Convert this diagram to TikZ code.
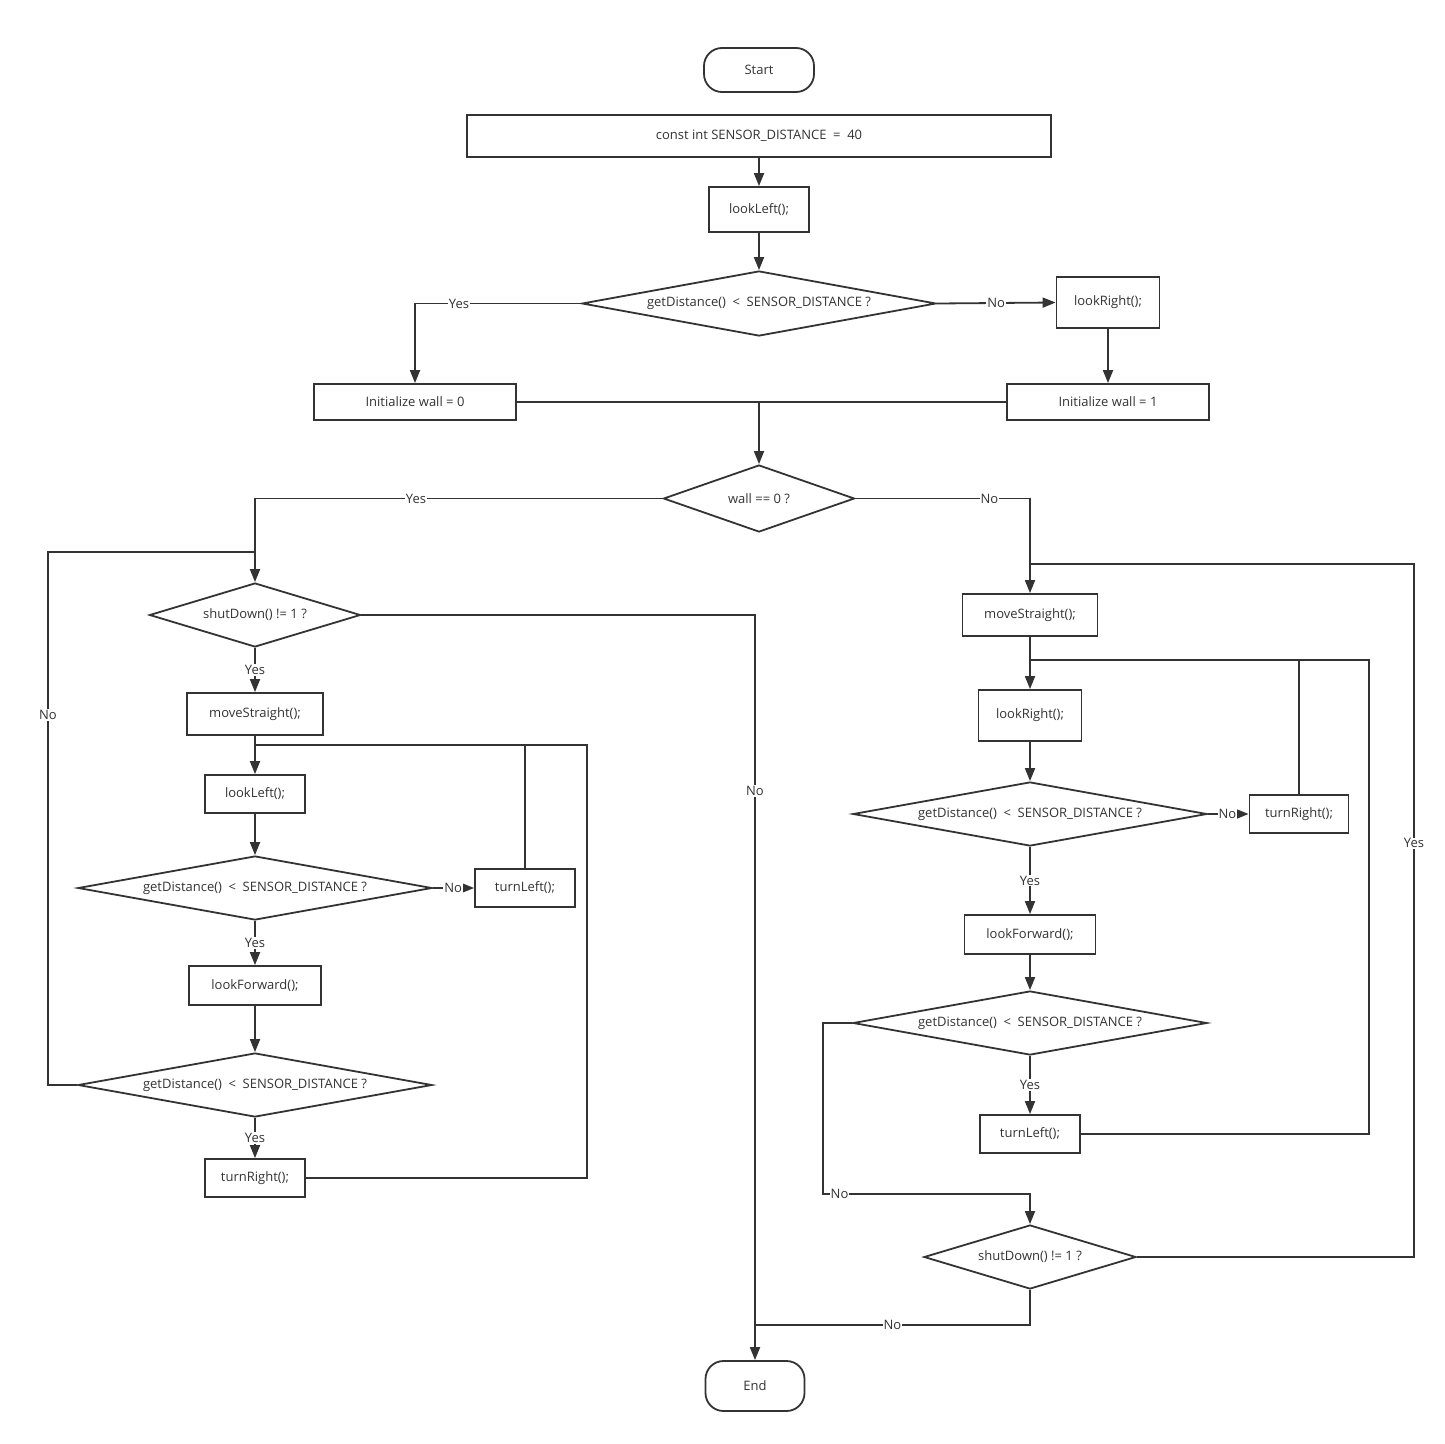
\documentclass[tikz,border=0pt]{standalone}
\usepackage{fontspec}
\setmainfont{Open Sans}
\usetikzlibrary{shapes.geometric,arrows.meta}
\definecolor{ink}{HTML}{333333}
\newcommand{\wsp}{\hspace{0.25em}}
\begin{document}
\begin{tikzpicture}[x=1pt,y=-1pt,
  every node/.style={font=\fontsize{13}{15}\selectfont, text=ink},
  proc/.style={draw=ink, line width=1.8pt, rectangle, inner sep=0pt},
  term/.style={draw=ink, line width=1.8pt, rectangle, rounded corners=18pt, inner sep=0pt},
  decide/.style n args={3}{draw=ink, line width=1.8pt, diamond, inner sep=0pt,
    minimum width=#1pt, minimum height=#2pt, shape aspect=#3},
  line/.style={draw=ink, line width=1.8pt},
  arr/.style={line, -{Triangle[length=13pt,width=10pt]}},
  lbl/.style={fill=white, inner sep=1pt, font=\fontsize{13}{15}\selectfont}]
\useasboundingbox (0,0) rectangle (1445,1443);

% ---- top section ----
\node[term, minimum width=110pt, minimum height=44pt] (start) at (759,70) {Start};
\node[proc, minimum width=584pt, minimum height=42pt] (const) at (759,136) {const int SENSOR\_DISTANCE\wsp{} = \wsp{}40};
\node[proc, minimum width=100pt, minimum height=45pt] (look0) at (759,209.5) {lookLeft();};
\node[decide={354}{65}{5.446}] (q0) at (759,303.5) {getDistance()\wsp{} < \wsp{}SENSOR\_DISTANCE ?};
\node[proc, minimum width=103pt, minimum height=51pt] (lookR0) at (1108,302.5) {lookRight();};
\node[proc, minimum width=202pt, minimum height=36pt] (wall0) at (415,402) {Initialize wall = 0};
\node[proc, minimum width=202pt, minimum height=36pt] (wall1) at (1108,402) {Initialize wall = 1};
\coordinate (join) at (759,402);
\node[decide={191}{67}{2.851}] (qwall) at (759,498.5) {wall == 0 ?};

% ---- left branch (wall on the left) ----
\node[decide={211}{64}{3.297}] (shutL) at (255,615) {shutDown() != 1 ?};
\node[proc, minimum width=136pt, minimum height=42pt] (moveL) at (255,714) {moveStraight();};
\node[proc, minimum width=100pt, minimum height=38pt] (lookL) at (255,794) {lookLeft();};
\node[decide={354}{64}{5.531}] (qL1) at (255,888) {getDistance()\wsp{} < \wsp{}SENSOR\_DISTANCE ?};
\node[proc, minimum width=100pt, minimum height=38pt] (turnLL) at (525,888) {turnLeft();};
\node[proc, minimum width=132pt, minimum height=39pt] (fwdL) at (255,985.5) {lookForward();};
\node[decide={354}{64}{5.531}] (qL2) at (255,1085) {getDistance()\wsp{} < \wsp{}SENSOR\_DISTANCE ?};
\node[proc, minimum width=100pt, minimum height=38pt] (turnRL) at (255,1178) {turnRight();};
\coordinate (loopL) at (255,552);
\coordinate (backL) at (255,745);

% ---- right branch (wall on the right) ----
\node[proc, minimum width=135pt, minimum height=42pt] (moveR) at (1030,615) {moveStraight();};
\node[proc, minimum width=103pt, minimum height=51pt] (lookR) at (1030,715.5) {lookRight();};
\node[decide={354}{64}{5.531}] (qR1) at (1030,814) {getDistance()\wsp{} < \wsp{}SENSOR\_DISTANCE ?};
\node[proc, minimum width=99pt, minimum height=38pt] (turnRR) at (1299,814) {turnRight();};
\node[proc, minimum width=131pt, minimum height=39pt] (fwdR) at (1030,934.5) {lookForward();};
\node[decide={354}{64}{5.531}] (qR2) at (1030,1023) {getDistance()\wsp{} < \wsp{}SENSOR\_DISTANCE ?};
\node[proc, minimum width=100pt, minimum height=38pt] (turnLR) at (1030,1134) {turnLeft();};
\node[decide={212}{64}{3.312}] (shutR) at (1030,1257) {shutDown() != 1 ?};
\coordinate (loopR) at (1030,564);
\coordinate (backR) at (1030,660);
\coordinate (merge) at (755,1325);

\node[term, minimum width=99pt, minimum height=50pt] (end) at (755,1386) {End};

% ---- connectors: top ----
\draw[arr] (const) -- (look0);
\draw[arr] (look0) -- (q0);
\draw[arr] (q0.west) -- node[lbl, pos=0.735]{Yes} (wall0.north |- q0.west) -- (wall0.north);
\draw[arr] (q0.east) -- node[lbl, pos=0.5]{No} (lookR0.west);
\draw[arr] (lookR0) -- (wall1);
\draw[line] (wall0.east) -- (join);
\draw[line] (wall1.west) -- (join);
\draw[arr] (join) -- (qwall.north);

% ---- connectors: left branch ----
\draw[arr] (qwall.west) -- node[lbl, pos=0.605]{Yes} (shutL.north |- qwall.west) -- (shutL.north);
\draw[line] (qL2.west) -- (48,1085) -- node[lbl, pos=0.694]{No} (48,552) -- (loopL);
\draw[arr] (shutL.east) -- (end.north |- shutL.east) -- node[lbl, pos=0.236]{No} (end.north);
\draw[arr] (shutL.south) -- node[lbl]{Yes} (moveL.north);
\draw[arr] (moveL.south) -- (lookL.north);
\draw[arr] (lookL) -- (qL1);
\draw[arr] (qL1.east) -- node[lbl, pos=0.49]{No} (turnLL.west);
\draw[line] (turnLL.north) -- (turnLL.north |- backL);
\draw[line] (turnRL.east) -- (587,1178) -- (587,745) -- (backL);
\draw[arr] (qL1.south) -- node[lbl]{Yes} (fwdL.north);
\draw[arr] (fwdL) -- (qL2);
\draw[arr] (qL2.south) -- node[lbl]{Yes} (turnRL.north);

% ---- connectors: right branch ----
\draw[arr] (qwall.east) -- node[lbl, pos=0.767]{No} (moveR.north |- qwall.east) -- (moveR.north);
\draw[line] (shutR.east) -- (1414,1257) -- node[lbl, pos=0.597]{Yes} (1414,564) -- (loopR);
\draw[arr] (moveR.south) -- (lookR.north);
\draw[arr] (lookR) -- (qR1);
\draw[arr] (qR1.east) -- node[lbl, pos=0.48]{No} (turnRR.west);
\draw[line] (turnRR.north) -- (turnRR.north |- backR);
\draw[line] (turnLR.east) -- (1369,1134) -- (1369,660) -- (backR);
\draw[arr] (qR1.south) -- node[lbl]{Yes} (fwdR.north);
\draw[arr] (fwdR) -- (qR2);
\draw[arr] (qR2.south) -- node[lbl]{Yes} (turnLR.north);
\draw[arr] (qR2.west) -- (823,1023) -- (823,1194) -- node[lbl, pos=0.08]{No} (shutR.north |- 823,1194) -- (shutR.north);
\draw[line] (shutR.south) -- (shutR.south |- merge) -- node[lbl, pos=0.5]{No} (merge);
\end{tikzpicture}
\end{document}
